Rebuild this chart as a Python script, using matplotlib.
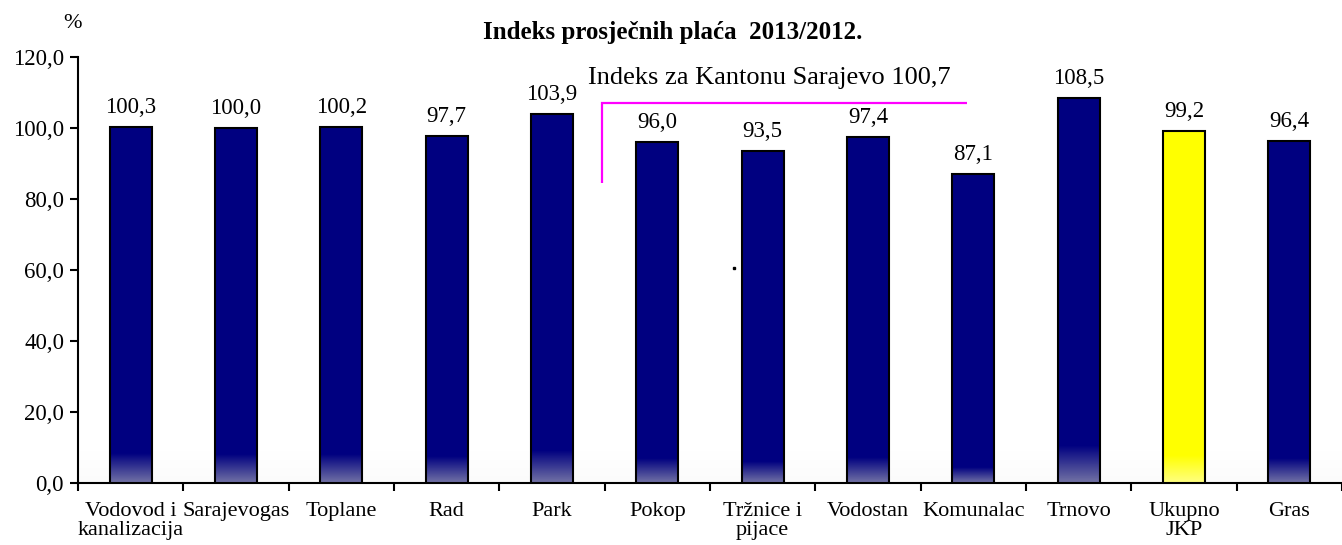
import numpy as np
import matplotlib
matplotlib.use("Agg")
import matplotlib.pyplot as plt
from matplotlib.ticker import FixedLocator, FuncFormatter

categories = ["Vodovod i\nkanalizacija", "Sarajevogas", "Toplane", "Rad", "Park", "Pokop",
              "Tržnice i\npijace", "Vodostan", "Komunalac", "Trnovo", "Ukupno\nJKP", "Gras"]
values = [100.3, 100.0, 100.2, 97.7, 103.9, 96.0, 93.5, 97.4, 87.1, 108.5, 99.2, 96.4]
highlight = "Ukupno\nJKP"
title = "Indeks prosječnih plaća  2013/2012."
kanton_text = "Indeks za Kantonu Sarajevo 100,7"
yticks = [0, 20, 40, 60, 80, 100, 120]

plt.rcParams['font.family'] = ['Liberation Serif', 'DejaVu Serif']

fig = plt.figure(figsize=(13.42, 5.45), dpi=100)
ax = fig.add_axes([0.0581, 0.1138, 0.9419, 0.7816])

n = len(categories)
x = np.arange(n)
bw = 0.40
navy = np.array([0, 0, 128]) / 255
navy_bot = np.array([115, 115, 165]) / 255
yel = np.array([255, 255, 0]) / 255
yel_bot = np.array([255, 255, 130]) / 255

# plot-area faint bottom gradient
bg = np.ones((50, 2, 3))
t = np.linspace(0, 1, 50)[:, None]
bg[:, :, :] = (1 - t)[:, :, None] * np.array([0.985, 0.985, 0.985]) + t[:, :, None] * np.array([1, 1, 1])
ax.imshow(bg, extent=[-0.5, n - 0.5, 0, 9], origin="lower", aspect="auto", zorder=0)

for xi, v, c in zip(x, values, categories):
    top_c, bot_c = (yel, yel_bot) if c == highlight else (navy, navy_bot)
    ax.bar(xi, v, width=bw, color=top_c, edgecolor="none", zorder=2)
    gh = max(0.3 * (v - 73.0), 2.0)
    tt = np.linspace(0, 1, 60)[:, None]
    img = (1 - tt)[:, :, None] * bot_c + tt[:, :, None] * top_c
    img = np.repeat(img, 2, axis=1)
    ax.imshow(img, extent=[xi - bw / 2, xi + bw / 2, 0, gh], origin="lower",
              aspect="auto", zorder=3)
    ax.bar(xi, v, width=bw, facecolor="none", edgecolor="black", linewidth=1.5, zorder=4)
    ax.annotate(f"{v:.1f}".replace(".", ","), (xi, v), xytext=(0, 6.5),
                textcoords="offset points", ha="center", va="bottom", fontsize=16.5)

# Kanton reference line
ax.plot([4.476, 4.476, 7.936], [84.5, 107.0, 107.0], color="#ff00ff", linewidth=1.6,
        zorder=5, solid_capstyle="butt", solid_joinstyle="miter")
ax.text(6.06, 114.1, kanton_text, ha="center", va="center", fontsize=19)
ax.plot([5.727], [60.6], marker="s", markersize=1.5, color="black", zorder=5)

ax.set_xlim(-0.5, n - 0.5)
ax.set_ylim(0, 120)
ax.set_xticks(x)
ax.set_xticklabels(categories, fontsize=16, linespacing=0.95)
ax.xaxis.set_minor_locator(FixedLocator(np.arange(-0.5, n, 1.0)))
ax.tick_params(axis="x", which="major", length=0, pad=14)
ax.tick_params(axis="x", which="minor", length=6, width=1.5, direction="out")
ax.set_yticks(yticks)
ax.yaxis.set_major_formatter(FuncFormatter(lambda v, p: f"{v:.1f}".replace(".", ",")))
ax.tick_params(axis="y", length=6, width=1.5, direction="out", labelsize=16.5, pad=4)

for s in ["top", "right"]:
    ax.spines[s].set_visible(False)
for s in ["left", "bottom"]:
    ax.spines[s].set_linewidth(1.5)

fig.text(673 / 1342, 1 - 33 / 545, title, ha="center", va="center", fontsize=18,
         fontweight="bold")
fig.text(73 / 1342, 1 - 24 / 545, "%", ha="center", va="center", fontsize=16)

fig.savefig("out.png", dpi=100)
